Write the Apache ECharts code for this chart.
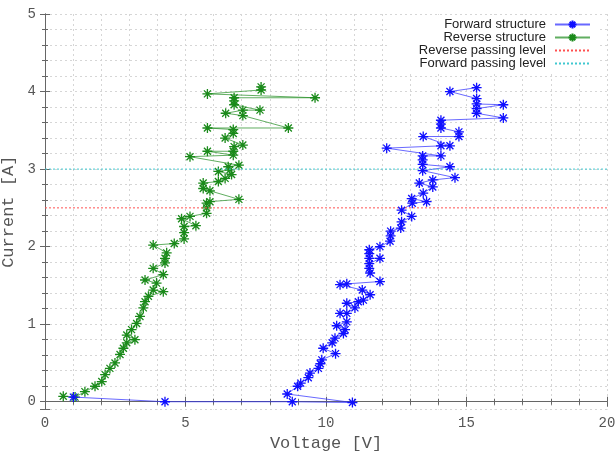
<!DOCTYPE html>
<html>
<head>
<meta charset="utf-8">
<script src="https://cdn.jsdelivr.net/npm/echarts@6/dist/echarts.min.js"></script>
<style>html,body{margin:0;padding:0;background:#fff}#c{width:615px;height:455px}</style>
</head>
<body>
<div id="c"></div>
<script>
// Forward structure: [voltage V, current A]
const forwardData = [
  [1.01,0.06],[4.27,0.00],[8.80,0.00],[10.94,-0.01],[8.62,0.10],[8.99,0.20],[9.10,0.24],[9.37,0.31],
  [9.43,0.37],[9.73,0.43],[9.80,0.49],[9.85,0.54],[10.34,0.62],[9.90,0.69],[10.22,0.76],[10.32,0.82],
  [10.62,0.88],[10.68,0.93],[10.38,0.98],[10.74,1.03],[10.50,1.14],[10.74,1.14],[11.03,1.21],[10.74,1.27],
  [11.15,1.29],[11.33,1.31],[11.57,1.38],[11.29,1.44],[10.50,1.51],[10.74,1.52],[11.92,1.55],[11.57,1.66],
  [11.54,1.72],[11.54,1.78],[11.92,1.85],[11.54,1.85],[11.54,1.91],[11.54,1.96],[11.92,2.00],[12.28,2.07],
  [12.30,2.14],[12.30,2.20],[12.66,2.24],[12.69,2.32],[13.05,2.39],[12.69,2.47],[13.07,2.56],[13.58,2.58],
  [13.05,2.62],[13.46,2.69],[13.80,2.77],[13.32,2.82],[13.80,2.86],[14.59,2.89],[13.44,2.98],[14.41,3.03],
  [13.44,3.06],[13.44,3.12],[13.44,3.17],[14.09,3.17],[12.16,3.27],[14.09,3.30],[14.41,3.30],[13.46,3.42],
  [14.73,3.42],[14.73,3.48],[14.09,3.53],[14.09,3.58],[14.09,3.63],[16.31,3.66],[15.36,3.72],[15.36,3.78],
  [16.31,3.83],[15.36,3.84],[15.36,3.91],[14.41,4.00],[15.36,4.05]
];
// Reverse structure: [voltage V, current A]
const reverseData = [
  [0.65,0.07],[1.07,0.06],[1.42,0.13],[1.78,0.20],[2.02,0.26],[2.14,0.35],[2.31,0.43],[2.49,0.50],
  [2.67,0.61],[2.79,0.69],[2.91,0.76],[3.20,0.80],[2.91,0.86],[3.08,0.93],[3.26,1.01],[3.38,1.10],
  [3.50,1.21],[3.56,1.29],[3.68,1.36],[4.21,1.42],[3.85,1.44],[3.97,1.53],[3.56,1.57],[4.21,1.64],
  [3.85,1.72],[4.27,1.79],[4.27,1.85],[4.33,1.92],[3.85,2.02],[4.60,2.04],[4.95,2.10],[4.95,2.18],
  [4.95,2.26],[5.37,2.27],[4.86,2.36],[5.16,2.39],[5.75,2.43],[5.75,2.50],[5.75,2.56],[5.87,2.58],
  [6.90,2.61],[5.87,2.72],[5.63,2.75],[5.63,2.82],[6.17,2.84],[6.41,2.88],[6.64,2.93],[6.17,2.97],
  [6.58,2.99],[6.52,3.03],[6.90,3.05],[5.16,3.16],[6.70,3.18],[5.78,3.23],[6.70,3.23],[6.73,3.29],
  [7.04,3.31],[6.41,3.40],[6.70,3.46],[6.70,3.51],[5.78,3.53],[8.66,3.53],[7.04,3.69],[6.43,3.72],
  [7.04,3.76],[7.65,3.76],[6.73,3.83],[6.73,3.88],[6.73,3.92],[9.61,3.92],[5.78,3.97],[7.69,4.02],[7.69,4.06]
];
const reversePassingLevel = 2.5;
const forwardPassingLevel = 3.0;
const xRange = [0, 20];
const yRange = [-0.1, 5];
const seriesNames = ['Forward structure', 'Reverse structure', 'Reverse passing level', 'Forward passing level'];

const STAR = 'path://M0,5L10,5M5,0L5,10M1.5,1.5L8.5,8.5M8.5,1.5L1.5,8.5';
const mono = 'Liberation Mono';
const gridLine = { show: true, lineStyle: { color: '#d6d6d6', width: 1, type: [2, 3] } };

const chart = echarts.init(document.getElementById('c'), null, { renderer: 'canvas' });
chart.setOption({
  animation: false,
  backgroundColor: '#fff',
  grid: { left: 45, right: 8, top: 14, bottom: 45.5, outerBoundsMode: 'none' },
  legend: {
    data: [
      seriesNames[0],
      seriesNames[1],
      { name: seriesNames[2], itemStyle: { opacity: 0 } },
      { name: seriesNames[3], itemStyle: { opacity: 0 } }
    ],
    orient: 'vertical',
    align: 'right',
    right: 18,
    top: 15,
    padding: [3, 6, 3, 30],
    backgroundColor: '#fff',
    itemWidth: 35,
    itemHeight: 10,
    itemGap: 0,
    textStyle: { fontFamily: 'Liberation Sans', fontSize: 13, color: '#222', lineHeight: 13, padding: [0, 4, 0, 0] }
  },
  xAxis: [{
    type: 'value', min: xRange[0], max: xRange[1], interval: 5,
    name: 'Voltage [V]', nameLocation: 'middle', nameGap: 25,
    nameTextStyle: { fontFamily: mono, fontSize: 17, color: '#555' },
    axisLine: { show: true, lineStyle: { color: '#666' } },
    axisTick: { show: true, inside: true, length: 5, lineStyle: { color: '#666' } },
    minorTick: { show: true, splitNumber: 5, length: 3, lineStyle: { color: '#666' } },
    axisLabel: { fontFamily: mono, fontSize: 14, color: '#555', margin: 7 },
    splitLine: gridLine,
    minorSplitLine: gridLine
  }, {
    type: 'value', position: 'top', min: xRange[0], max: xRange[1], interval: 5,
    axisLine: { show: true, lineStyle: { color: '#666' } },
    axisTick: { show: true, inside: true, length: 5, lineStyle: { color: '#666' } },
    minorTick: { show: true, splitNumber: 5, length: 3, lineStyle: { color: '#666' } },
    axisLabel: { show: false }, splitLine: { show: false }
  }],
  yAxis: [{
    type: 'value', min: yRange[0], max: yRange[1], splitNumber: 5,
    name: 'Current [A]', nameLocation: 'middle', nameGap: 20, nameRotate: 90,
    nameTextStyle: { fontFamily: mono, fontSize: 17, color: '#555' },
    axisLine: { show: true, lineStyle: { color: '#666' } },
    axisTick: { show: true, inside: true, length: 5, lineStyle: { color: '#666' } },
    minorTick: { show: true, splitNumber: 5, length: 3, lineStyle: { color: '#666' } },
    axisLabel: { fontFamily: mono, fontSize: 14, color: '#555', margin: 9, showMinLabel: false },
    splitLine: gridLine,
    minorSplitLine: gridLine
  }, {
    type: 'value', position: 'right', min: yRange[0], max: yRange[1], splitNumber: 5,
    axisLine: { show: true, lineStyle: { color: '#666' } },
    axisTick: { show: true, inside: true, length: 5, lineStyle: { color: '#666' } },
    minorTick: { show: true, splitNumber: 5, length: 3, lineStyle: { color: '#666' } },
    axisLabel: { show: false }, splitLine: { show: false }
  }],
  series: [
    {
      name: seriesNames[0], type: 'line', data: forwardData,
      symbol: STAR, symbolSize: 10, showAllSymbol: true,
      itemStyle: { color: '#0f0fff', borderColor: '#0f0fff', borderWidth: 1.3 },
      lineStyle: { color: 'rgba(40,40,255,0.7)', width: 1 },
      z: 3
    },
    {
      name: seriesNames[1], type: 'line', data: reverseData,
      symbol: STAR, symbolSize: 10, showAllSymbol: true,
      itemStyle: { color: '#1a8a1a', borderColor: '#1a8a1a', borderWidth: 1.3 },
      lineStyle: { color: 'rgba(30,140,30,0.7)', width: 1 },
      z: 2
    },
    {
      name: seriesNames[2], type: 'line', symbol: 'none',
      data: [[xRange[0], reversePassingLevel], [xRange[1], reversePassingLevel]],
      itemStyle: { color: '#ff5050' },
      lineStyle: { color: '#ff5050', width: 1, type: [2, 2] }
    },
    {
      name: seriesNames[3], type: 'line', symbol: 'none',
      data: [[xRange[0], forwardPassingLevel], [xRange[1], forwardPassingLevel]],
      itemStyle: { color: '#40c8d0' },
      lineStyle: { color: '#40c8d0', width: 1, type: [2, 2] }
    }
  ]
});
</script>
</body>
</html>
